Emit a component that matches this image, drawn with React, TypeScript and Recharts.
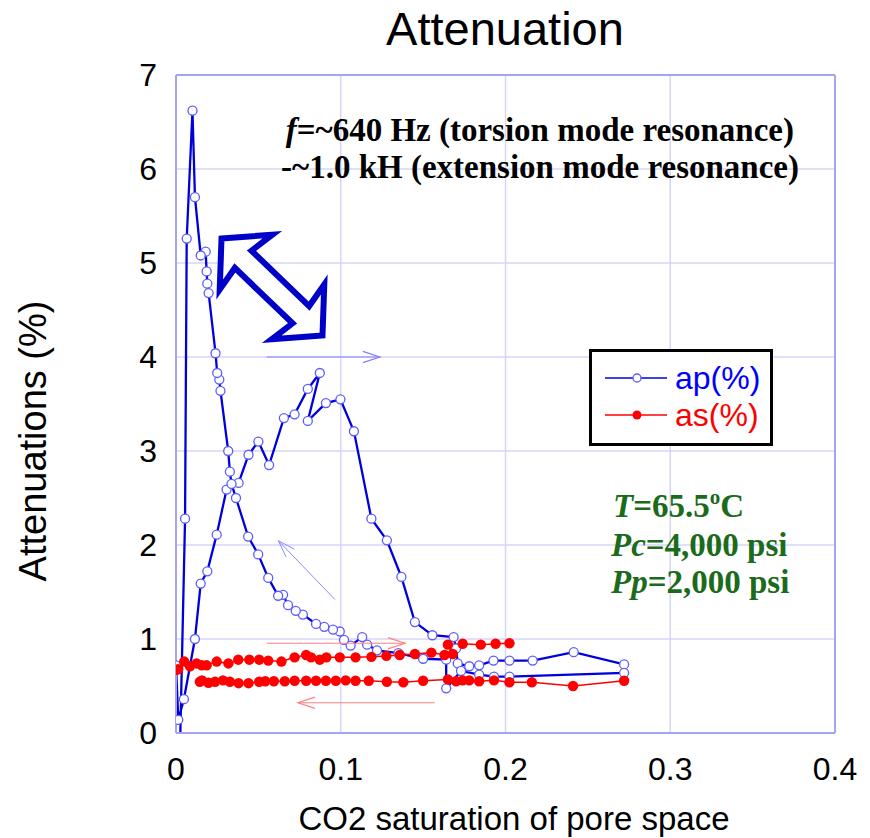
import React from 'react';
import {
  CartesianGrid,
  Legend,
  Line,
  LineChart,
  ReferenceLine,
  XAxis,
  YAxis,
} from 'recharts';

// Attenuation vs CO2 saturation: ap (P-wave) loop and as (S-wave) loop, points in measurement order.

const apX = [
  0.0, 0.0014, 0.0048, 0.0115, 0.015, 0.019, 0.0247, 0.0307, 0.038, 0.044, 0.05, 0.0565, 0.0655, 0.072, 0.08,
  0.0873, 0.08, 0.091, 0.0998, 0.108, 0.1186, 0.128, 0.1368, 0.145, 0.1556, 0.1685, 0.17, 0.171, 0.178, 0.184,
  0.1927, 0.2024, 0.2165, 0.2414, 0.272, 0.272, 0.2024, 0.193, 0.184, 0.173, 0.164, 0.164, 0.15, 0.135, 0.122,
  0.116, 0.113, 0.106, 0.102, 0.0994, 0.0953, 0.09, 0.085, 0.077, 0.0727, 0.068, 0.065, 0.062, 0.056, 0.0499,
  0.0438, 0.0364, 0.0337, 0.0327, 0.0317, 0.027, 0.0263, 0.025, 0.024, 0.0198, 0.019, 0.0186, 0.018, 0.015,
  0.0115, 0.01, 0.0065, 0.0055, 0.0025,
];
const apY = [
  0.72, 0.14, 0.36, 1.0, 1.59, 1.72, 2.11, 2.59, 2.66, 2.96, 3.1, 2.85, 3.35, 3.39, 3.66,
  3.83, 3.32, 3.51, 3.55, 3.21, 2.28, 2.05, 1.66, 1.18, 1.04, 1.02, 0.9, 0.74, 0.71, 0.72,
  0.77, 0.77, 0.77, 0.86, 0.73, 0.64, 0.6, 0.6, 0.62, 0.66, 0.475, 0.78, 0.79, 0.85, 0.88,
  0.94, 1.02, 0.93, 0.99, 1.08, 1.1, 1.13, 1.16, 1.26, 1.3, 1.36, 1.47, 1.46, 1.65, 1.9,
  2.09, 2.5, 2.65, 2.78, 3.0, 3.64, 3.76, 3.83, 4.04, 4.68, 4.78, 4.91, 5.12, 5.08,
  5.7, 6.62, 5.26, 2.28, -0.1,
];

// as: increasing saturation (upper branch), gap, then decreasing saturation (lower branch)
const asX = [
  0.0, 0.0014, 0.005, 0.0085, 0.0125, 0.0156, 0.0186, 0.0247, 0.0318, 0.0378, 0.0445, 0.0505, 0.056, 0.064,
  0.072, 0.079, 0.082, 0.0873, 0.0913, 0.0994, 0.109, 0.1186, 0.1277, 0.1358, 0.145, 0.155, 0.163, 0.168,
  0.165, 0.174, 0.185, 0.194, 0.2024, 0.2025,
  0.272, 0.241, 0.216, 0.2024, 0.193, 0.184, 0.178, 0.174, 0.17, 0.165, 0.15, 0.138, 0.128, 0.117, 0.109,
  0.103, 0.097, 0.091, 0.085, 0.079, 0.072, 0.066, 0.0594, 0.0542, 0.0505, 0.044, 0.038, 0.0327, 0.0285,
  0.0237, 0.0197, 0.0158, 0.0145,
];
const asY = [
  0.67, 0.68, 0.76, 0.71, 0.74, 0.72, 0.72, 0.76, 0.74, 0.78, 0.78, 0.78, 0.77, 0.76,
  0.805, 0.83, 0.805, 0.78, 0.805, 0.805, 0.805, 0.81, 0.82, 0.83, 0.84, 0.855, 0.83, 0.84,
  0.94, 0.95, 0.94, 0.95, 0.955, null,
  0.556, 0.5, 0.54, 0.54, 0.56, 0.55, 0.56, 0.56, 0.55, 0.57, 0.556, 0.54, 0.545, 0.556, 0.556,
  0.56, 0.556, 0.556, 0.556, 0.556, 0.556, 0.55, 0.55, 0.55, 0.545, 0.53, 0.53, 0.545, 0.56,
  0.545, 0.535, 0.56, 0.545,
];

const xTicks = [0, 0.1, 0.2, 0.3, 0.4];
const yTicks = [0, 1, 2, 3, 4, 5, 6, 7];

const apData = apX.map((x, i) => ({ x, y: apY[i] }));
const asData = asX.map((x, i) => ({ x, y: asY[i] }));

const SANS = '"Liberation Sans", Arial, sans-serif';
const SERIF = '"Liberation Serif", "Times New Roman", serif';
const FRAME = '#a4a4f2';
const GREEN = '#1b6b1b';

// plot box in page pixels (matches margins / axis sizes below), used for the overlay annotations
const PL = 176, PR = 835, PT = 75, PB = 733;
const px = (x: number) => PL + (x / 0.4) * (PR - PL);
const py = (y: number) => PB - (y / 7) * (PB - PT);

function Arrow({ x1, y1, x2, y2, color, w = 1.2 }: any) {
  const ax = px(x1), ay = py(y1), bx = px(x2), by = py(y2);
  const a = Math.atan2(by - ay, bx - ax);
  const L = 18, s = 0.32;
  const h1 = [bx - L * Math.cos(a - s), by - L * Math.sin(a - s)];
  const h2 = [bx - L * Math.cos(a + s), by - L * Math.sin(a + s)];
  return (
    <g stroke={color} strokeWidth={w} fill="none">
      <line x1={ax} y1={ay} x2={bx} y2={by} />
      <polyline points={`${h1[0]},${h1[1]} ${bx},${by} ${h2[0]},${h2[1]}`} />
    </g>
  );
}

function DoubleArrow() {
  const cx = 272, cy = 287, ang = Math.atan2(96, 100);
  const pts = [
    [-70, 0], [-36, -38], [-40, -12], [40, -12], [36, -38],
    [70, 0], [36, 38], [40, 12], [-40, 12], [-36, 38],
  ].map(([u, v]) => [cx + u * Math.cos(ang) - v * Math.sin(ang), cy + u * Math.sin(ang) + v * Math.cos(ang)]);
  return <polygon points={pts.map((p) => p.join(',')).join(' ')} fill="#fff" stroke="#0000c8" strokeWidth={6} strokeLinejoin="miter" />;
}

function LegendBox() {
  return (
    <svg width={184} height={97}>
      <rect x={1.5} y={1.5} width={181} height={94} fill="#fff" stroke="#000" strokeWidth={3} />
      <line x1={16} y1={29} x2={78} y2={29} stroke="#0000dd" strokeWidth={1.5} />
      <circle cx={48} cy={29} r={4} fill="#fff" stroke="#5c5cff" strokeWidth={1.3} />
      <text x={86} y={40} fontFamily={SANS} fontSize={32} fill="#0000ff">ap(%)</text>
      <line x1={16} y1={66} x2={78} y2={66} stroke="#ff0000" strokeWidth={1.5} />
      <circle cx={48} cy={66} r={4.5} fill="#ff0000" />
      <text x={86} y={77} fontFamily={SANS} fontSize={32} fill="#ff0000">as(%)</text>
    </svg>
  );
}

export default function App() {
  return (
    <div style={{ position: 'absolute', left: 0, top: 0, width: 870, height: 838, background: '#fff' }}>
      <LineChart width={870} height={838} margin={{ top: 75, right: 35, bottom: 0, left: 0 }}>
        <CartesianGrid stroke="#d6d6fa" strokeWidth={1.5} />
        <XAxis
          type="number"
          dataKey="x"
          domain={[0, 0.4]}
          ticks={xTicks}
          height={105}
          tickLine={false}
          tickSize={0}
          tickMargin={24}
          axisLine={{ stroke: FRAME, strokeWidth: 2 }}
          tick={{ fontSize: 32, fill: '#000', fontFamily: SANS }}
          allowDataOverflow
        />
        <YAxis
          type="number"
          domain={[0, 7]}
          ticks={yTicks}
          width={176}
          tickLine={false}
          tickSize={0}
          tickMargin={19}
          axisLine={{ stroke: FRAME, strokeWidth: 2 }}
          tick={{ fontSize: 32, fill: '#000', fontFamily: SANS }}
          allowDataOverflow
        />
        <ReferenceLine y={7} stroke={FRAME} strokeWidth={2} />
        <ReferenceLine x={0.4} stroke={FRAME} strokeWidth={2} />
        <Legend
          layout="vertical"
          align="center"
          verticalAlign="middle"
          content={() => <LegendBox />}
          wrapperStyle={{ left: 589, top: 349, width: 184, height: 97 }}
        />
        <Line
          data={apData}
          dataKey="y"
          name="ap(%)"
          type="linear"
          stroke="#0000dd"
          strokeWidth={2.3}
          dot={{ r: 4.5, fill: '#fff', stroke: '#5c5cff', strokeWidth: 1.3 }}
          isAnimationActive={false}
        />
        <Line
          data={asData}
          dataKey="y"
          name="as(%)"
          type="linear"
          stroke="#ff0000"
          strokeWidth={1.5}
          dot={{ r: 5.2, fill: '#ff0000', stroke: 'none' }}
          isAnimationActive={false}
        />
      </LineChart>

      <svg width={870} height={838} style={{ position: 'absolute', left: 0, top: 0, pointerEvents: 'none' }}>
        <text x={505} y={45} textAnchor="middle" fontFamily={SANS} fontSize={47}>Attenuation</text>
        <text transform="translate(46,441) rotate(-90)" textAnchor="middle" fontFamily={SANS} fontSize={38}>Attenuations (%)</text>
        <text x={514} y={830} textAnchor="middle" fontFamily={SANS} fontSize={33}>CO2 saturation of pore space</text>

        <g fontFamily={SERIF} fontWeight="bold" fontSize={33} fill="#000">
          <text x={794} y={141} textAnchor="end"><tspan fontStyle="italic">f</tspan>=~640 Hz (torsion mode resonance)</text>
          <text x={799} y={178} textAnchor="end">-~1.0 kH (extension mode resonance)</text>
        </g>
        <g fontFamily={SERIF} fontWeight="bold" fontSize={33} fill={GREEN}>
          <text x={613} y={517}>
            <tspan fontStyle="italic">T</tspan>=65.5<tspan dy={-13} fontSize={21}>o</tspan><tspan dy={13}>C</tspan>
          </text>
          <text x={611} y={556}><tspan fontStyle="italic">Pc</tspan>=4,000 psi</text>
          <text x={611} y={593}><tspan fontStyle="italic">Pp</tspan>=2,000 psi</text>
        </g>

        <DoubleArrow />
        <Arrow x1={0.055} y1={4.0} x2={0.1238} y2={4.0} color="#8080ff" />
        <Arrow x1={0.0965} y1={1.42} x2={0.0621} y2={2.046} color="#8c8cff" w={1} />
        <Arrow x1={0.055} y1={0.955} x2={0.139} y2={0.955} color="#ff8080" />
        <Arrow x1={0.157} y1={0.322} x2={0.074} y2={0.322} color="#ff8080" />
      </svg>
    </div>
  );
}
